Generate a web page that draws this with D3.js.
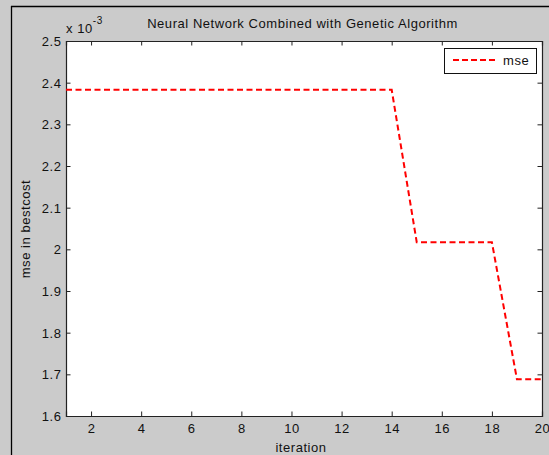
<!DOCTYPE html>
<html><head><meta charset="utf-8">
<script src="https://cdn.jsdelivr.net/npm/d3@7/dist/d3.min.js"></script>
<style>
html,body{margin:0;padding:0;background:#cbcbcb;}
svg{display:block;}
text{font-family:"Liberation Sans",Arial,sans-serif;fill:#111;}
</style></head>
<body>
<svg id="chart" width="549" height="455"></svg>
<script>
const iterations = [1,2,3,4,5,6,7,8,9,10,11,12,13,14,15,16,17,18,19,20];
const mse = [0.002383,0.002383,0.002383,0.002383,0.002383,0.002383,0.002383,0.002383,0.002383,0.002383,0.002383,0.002383,0.002383,0.002383,0.002017,0.002017,0.002017,0.002017,0.001688,0.001688];
const xTicks = [2,4,6,8,10,12,14,16,18,20];
const yTicks = [1.6,1.7,1.8,1.9,2.0,2.1,2.2,2.3,2.4,2.5];
const title = "Neural Network Combined with Genetic Algorithm";
const xLabel = "iteration";
const yLabel = "mse in bestcost";
const seriesName = "mse";

const svg = d3.select("#chart");
const L = 66, R = 542, T = 41, B = 416;
const x = d3.scaleLinear().domain([1,20]).range([L,R]);
const y = d3.scaleLinear().domain([1.6e-3,2.5e-3]).range([B,T]);
const fs = "13px", ls = "0.55px";

// figure border (cropped at left/top)
svg.append("rect").attr("x",0).attr("y",0).attr("width",549).attr("height",455).attr("fill","#cbcbcb");
svg.append("line").attr("x1",11.5).attr("x2",11.5).attr("y1",6).attr("y2",455).attr("stroke","#000").attr("stroke-width",1.3);
svg.append("line").attr("x1",11).attr("x2",549).attr("y1",6.5).attr("y2",6.5).attr("stroke","#000").attr("stroke-width",1.3);

// plot area
svg.append("rect").attr("x",L).attr("y",T).attr("width",R-L).attr("height",B-T).attr("fill","#fff");

const tl = 4.5;
// bottom axis
const gx = svg.append("g").attr("transform",`translate(0,${B})`)
  .call(d3.axisBottom(x).tickValues(xTicks).tickSize(-tl).tickPadding(0).tickFormat(d3.format("d")));
gx.selectAll("text").attr("y",17).attr("dy",0).style("font-size",fs).style("letter-spacing",ls);
// top axis
svg.append("g").attr("transform",`translate(0,${T})`)
  .call(d3.axisTop(x).tickValues(xTicks).tickSize(-tl).tickFormat(""));
// left axis
const gy = svg.append("g").attr("transform",`translate(${L},0)`)
  .call(d3.axisLeft(y).tickValues(yTicks.map(v=>v*1e-3)).tickSize(-tl).tickPadding(0)
    .tickFormat(v=>d3.format("~g")(+(v*1e3).toFixed(1))));
gy.selectAll("text").attr("x",-4.5).attr("dy",0).attr("y",4.6).style("font-size",fs).style("letter-spacing",ls);
// right axis
svg.append("g").attr("transform",`translate(${R},0)`)
  .call(d3.axisRight(y).tickValues(yTicks.map(v=>v*1e-3)).tickSize(-tl).tickFormat(""));
svg.selectAll(".domain").attr("stroke","#222").attr("stroke-width",1.2);
svg.selectAll(".tick line").attr("stroke","#222").attr("stroke-width",1);
svg.selectAll(".tick text").attr("fill","#111");

// data line
const line = d3.line().x((d,i)=>x(iterations[i])).y(d=>y(d));
svg.append("path").datum(mse).attr("d",line).attr("fill","none")
  .attr("stroke","#ff0000").attr("stroke-width",2).attr("stroke-dasharray","6,3.5");

// exponent
const ex = svg.append("text").attr("x",66).attr("y",32.5).style("font-size",fs).style("letter-spacing",ls);
ex.append("tspan").text("x 10");
ex.append("tspan").attr("dy",-9).style("font-size","10px").text("-3");

// title
svg.append("text").attr("x",302.5).attr("y",28.3).attr("text-anchor","middle")
  .style("font-size",fs).style("letter-spacing",ls).text(title);
// x label
svg.append("text").attr("x",301).attr("y",452).attr("text-anchor","middle")
  .style("font-size",fs).style("letter-spacing",ls).text(xLabel);
// y label
svg.append("text").attr("transform","translate(30,229) rotate(-90)").attr("text-anchor","middle")
  .style("font-size",fs).style("letter-spacing",ls).text(yLabel);

// legend
const lg = svg.append("g");
lg.append("rect").attr("x",444.5).attr("y",48.5).attr("width",92).attr("height",25)
  .attr("fill","#fff").attr("stroke","#111").attr("stroke-width",1);
lg.append("line").attr("x1",453).attr("x2",495).attr("y1",60).attr("y2",60)
  .attr("stroke","#ff0000").attr("stroke-width",2).attr("stroke-dasharray","6,3");
lg.append("text").attr("x",503).attr("y",65).style("font-size",fs).style("letter-spacing",ls).text(seriesName);
</script>
</body></html>
